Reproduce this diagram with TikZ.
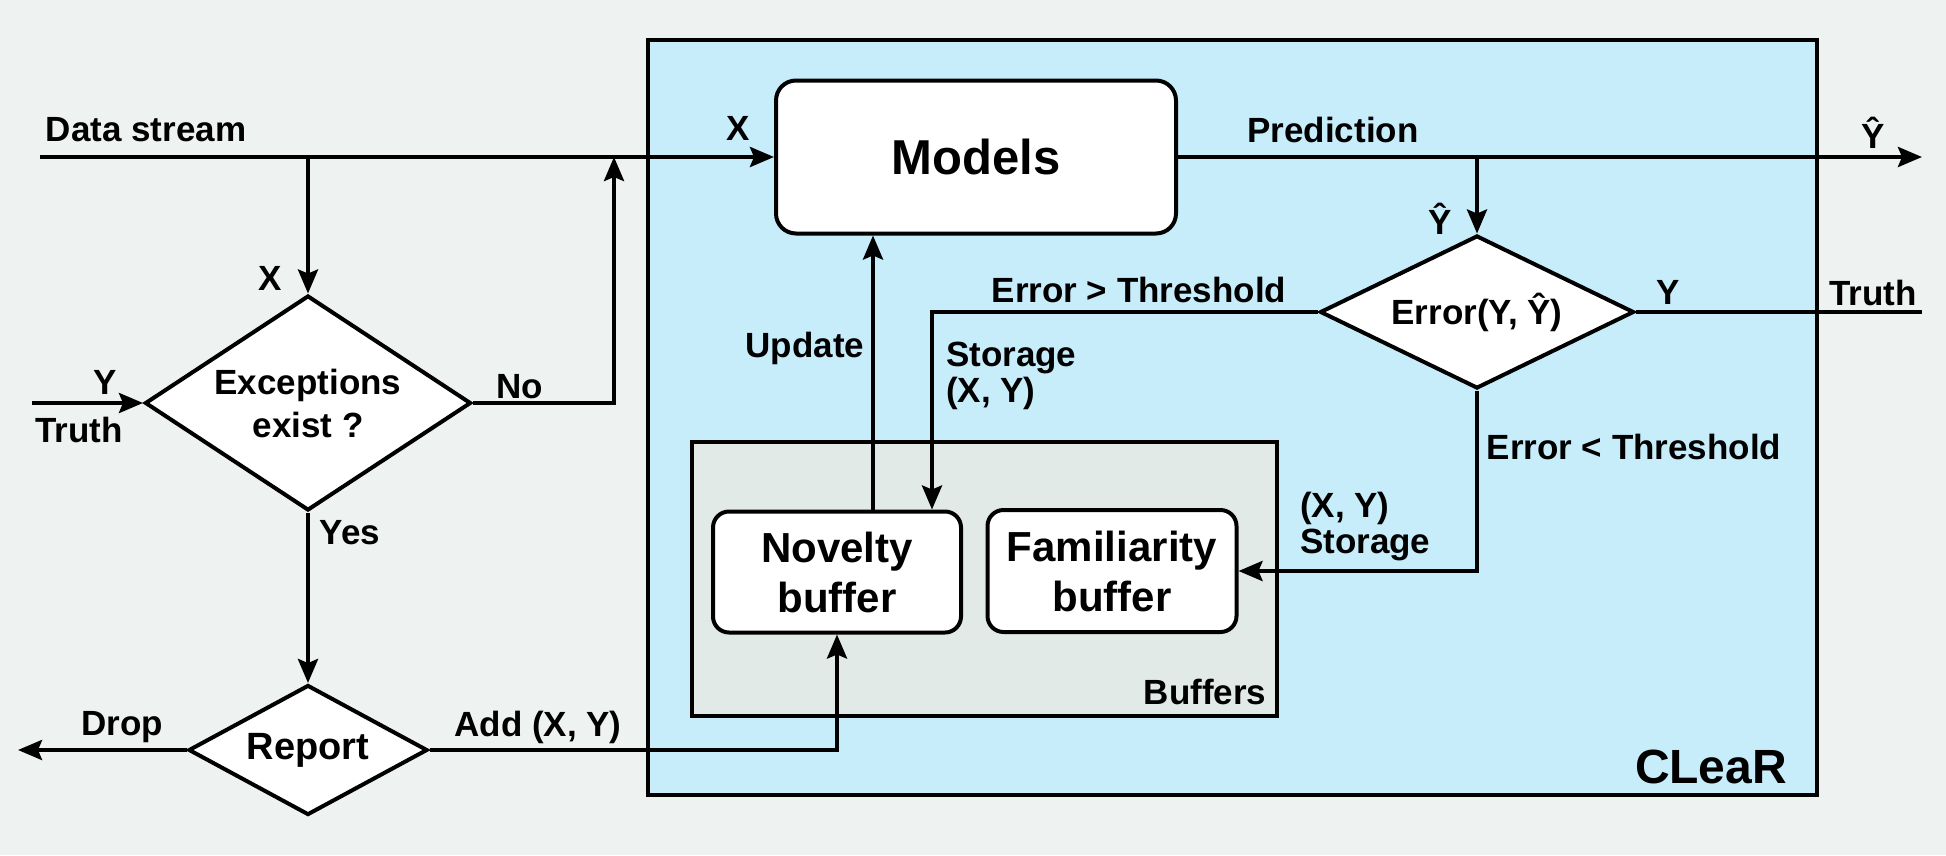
\documentclass[tikz,border=0pt]{standalone}
\usepackage{fontspec}
\setmainfont{Liberation Sans}
\usetikzlibrary{arrows.meta,shapes.geometric,positioning,calc}
\definecolor{bgcol}{RGB}{238,243,241}
\definecolor{clearcol}{RGB}{199,236,250}
\definecolor{bufcol}{RGB}{226,234,232}

\begin{document}
\begin{tikzpicture}[x=1pt,y=-1pt,line width=4pt,
    lblstyle/.style={font=\fontsize{35}{36}\selectfont\bfseries,inner sep=0,align=left},
    decstyle/.style={diamond,draw,fill=white,inner sep=0,align=center,font=\fontsize{35}{43}\selectfont\bfseries},
    boxstyle/.style={rectangle,rounded corners=16pt,draw,fill=white,inner sep=0,align=center,font=\fontsize{42}{50}\selectfont\bfseries},
    flow/.style={-{Stealth[length=24pt,width=20pt,inset=4pt]}}]
    \fill[bgcol] (0,0) rectangle (1946,855);
    \useasboundingbox (0,0) rectangle (1946,855);
    \draw[fill=clearcol] (648,40) rectangle (1817,795);
    \draw[fill=bufcol] (692,442) rectangle (1277,716);

    \node[boxstyle,minimum width=400pt,minimum height=153pt,rounded corners=20pt,font=\fontsize{49}{50}\selectfont\bfseries] (models) at (976,157) {Models};
    \node[boxstyle,minimum width=248pt,minimum height=121pt] (novelty) at (837,572) {Novelty\\buffer};
    \node[boxstyle,minimum width=249pt,minimum height=122pt] (famil) at (1112,571) {Familiarity\\buffer};
    \node[decstyle,minimum width=326pt,minimum height=215pt,shape aspect=1.52] (exc) at (308,403) {Exceptions\\exist ?};
    \node[decstyle,minimum width=239pt,minimum height=130pt,shape aspect=1.84,font=\fontsize{38}{40}\selectfont\bfseries] (report) at (308,750) {Report};
    \node[decstyle,minimum width=314pt,minimum height=153pt,shape aspect=2.05] (err) at (1477,312) {Error(Y, Ŷ)};

    \coordinate (dsin) at (40,157);
    \coordinate (split) at (308,157);
    \coordinate (join) at (614,157);
    \coordinate (yin) at (32,403);
    \coordinate (drop) at (18,750);
    \coordinate (yhat) at (1922,157);
    \coordinate (psplit) at (1477,157);
    \coordinate (tin) at (1922,312);

    \draw[flow] (dsin) -- (models.west);
    \draw[flow] (split) -- (exc.north);
    \draw[flow] (exc.east) -| (join);
    \draw[flow] (yin) -- (exc.west);
    \draw[flow] (exc.south) -- (report.north);
    \draw[flow] (report.west) -- (drop);
    \draw[flow] (report.east) -| (novelty.south);
    \draw[flow] (models.east) -- (yhat);
    \draw[flow] (psplit) -- (err.north);
    \draw (tin) -- (err.east);
    \draw[flow] (err.west) -| ([xshift=95pt]novelty.north);
    \draw[flow] ([xshift=36pt]novelty.north) -- ([xshift=36pt]novelty.north |- models.south);
    \draw[flow] (err.south) |- (famil.east);

    \node[lblstyle] (dslbl) at (146,130) {Data stream};
    \node[lblstyle] (x1lbl) at (270,278) {X};
    \node[lblstyle] (y1lbl) at (105,382) {Y};
    \node[lblstyle] (t1lbl) at (79,430) {Truth};
    \node[lblstyle] (nolbl) at (520,387) {No};
    \node[lblstyle] (yeslbl) at (350,533) {Yes};
    \node[lblstyle] (droplbl) at (122,727) {Drop};
    \node[lblstyle] (addlbl) at (538,727) {Add (X, Y)};
    \node[lblstyle] (x2lbl) at (738,128) {X};
    \node[lblstyle] (predlbl) at (1333,130) {Prediction};
    \node[lblstyle] (yh1lbl) at (1873,133) {Ŷ};
    \node[lblstyle] (yh2lbl) at (1440,219) {Ŷ};
    \node[lblstyle] (y2lbl) at (1668,292) {Y};
    \node[lblstyle] (t2lbl) at (1873,293) {Truth};
    \node[lblstyle] (gtlbl) at (1139,290) {Error > Threshold};
    \node[lblstyle,anchor=west] (st1lbl) at (944,376) {Storage\\(X, Y)};
    \node[lblstyle] (updlbl) at (805,348) {Update};
    \node[lblstyle] (ltlbl) at (1634,447) {Error < Threshold};
    \node[lblstyle,anchor=west] (st2lbl) at (1298,527) {(X, Y)\\Storage};
    \node[lblstyle] (buflbl) at (1205,692) {Buffers};
    \node[lblstyle,font=\fontsize{48}{50}\selectfont\bfseries] (clearlbl) at (1711,767) {CLeaR};
\end{tikzpicture}
\end{document}
